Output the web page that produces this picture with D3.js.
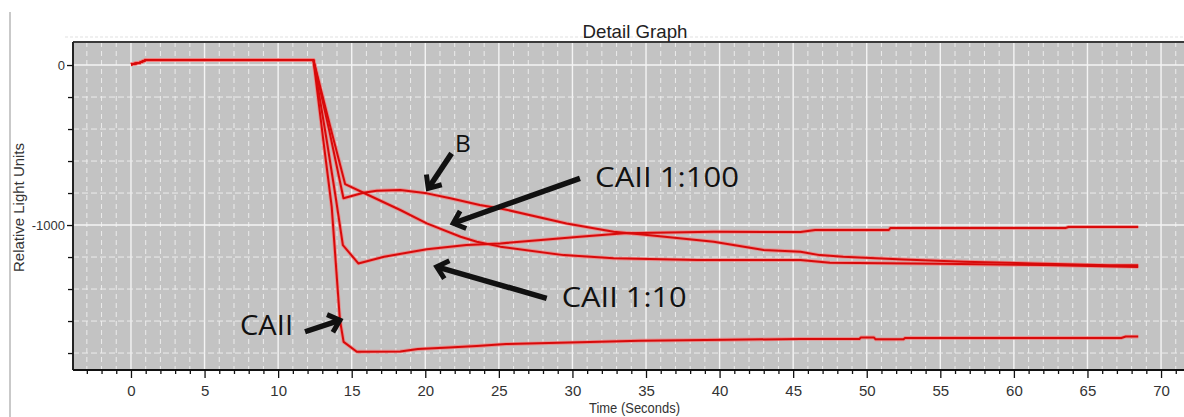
<!DOCTYPE html>
<html><head><meta charset="utf-8">
<script src="https://cdn.jsdelivr.net/npm/d3@7"></script>
<style>html,body{margin:0;padding:0;background:#fff;}svg{display:block;}</style>
</head><body>
<svg id="chart" width="1184" height="417"></svg>
<script>
// ---------- data ----------
const chartTitle = "Detail Graph";
const xAxisTitle = "Time (Seconds)";
const yAxisTitle = "Relative Light Units";
const xTickLabels = [0,5,10,15,20,25,30,35,40,45,50,55,60,65,70];
const yTickLabels = [0,-1000];
const seriesNames = ["CAII","CAII 1:10","CAII 1:100","B"];

const caiiTime  = [0,0.6,1.0,12.4,13.07,13.64,14.2,14.45,15.35,18.3,19.5,21.6,23.5,25.5,30.5,34.6,40.5,45.5,49.5,49.6,50.5,50.6,52.5,52.6,67.3,67.6,68.45];
const caiiValue = [4,15,31,31,-470,-885,-1594,-1730,-1792,-1790,-1775,-1765,-1756,-1744,-1733,-1723,-1717,-1712,-1712,-1703,-1703,-1714,-1714,-1706,-1706,-1697,-1697];

const caii10Time  = [0,0.6,1.0,12.4,13.3,13.9,14.4,15.45,17.2,20.1,22.8,25.1,30.5,33.5,39.6,45.5,46.5,51.5,51.6,63.5,63.7,68.45];
const caii10Value = [4,15,31,31,-470,-820,-1125,-1240,-1198,-1152,-1125,-1115,-1073,-1052,-1042,-1044,-1031,-1031,-1019,-1019,-1012,-1012];

const caii100Time  = [0,0.6,1.0,12.4,13.5,14.55,15.8,18.3,20.1,22.4,23.5,25.1,29.4,32.8,38.5,45.5,47.5,55,62,68.45];
const caii100Value = [4,15,31,31,-370,-744,-798,-906,-990,-1073,-1104,-1135,-1188,-1208,-1219,-1219,-1235,-1242,-1250,-1262];

const bTime  = [0,0.6,1.0,12.4,13.5,14.44,15.8,16.7,18.3,20.1,21.7,23.7,25.1,29.6,32.8,35.1,39.6,43.0,45.5,46.8,48.4,52.5,56.6,61.3,66.5,68.45];
const bValue = [4,15,31,31,-420,-833,-798,-785,-781,-802,-833,-875,-896,-990,-1042,-1063,-1104,-1156,-1167,-1188,-1198,-1215,-1229,-1240,-1252,-1252];

// annotations (in data coordinates)
const annoLabels = ["B","CAII 1:100","CAII 1:10","CAII"];
const annoTextT  = [22.02,31.54,29.27,7.41];
const annoTextV  = [-544,-762,-1514,-1688];
const annoFromT  = [21.79,30.51,28.25,11.83];
const annoFromV  = [-552,-708,-1458,-1667];
const annoToT    = [20.2,21.9,20.78,14.2];
const annoToV    = [-771,-989,-1261,-1594];

// ---------- layout ----------
const W = 1184, H = 417;
const plot = {left:73, right:1184, top:42, bottom:370};
const svg = d3.select("#chart");

const x = d3.scaleLinear().domain([-3.94, 71.56]).range([plot.left, plot.right]);
const y = d3.scaleLinear().domain([-1906, 144]).range([plot.bottom, plot.top]);

// screenshot border line
svg.append("line").attr("x1",10).attr("x2",10).attr("y1",12).attr("y2",H)
  .attr("stroke","#c9c9c9").attr("stroke-width",2);

// faint dotted strip above plot
svg.append("line").attr("x1",65).attr("x2",W).attr("y1",37).attr("y2",37)
  .attr("stroke","#f0f0f0").attr("stroke-width",2).attr("stroke-dasharray","3,2");

// plot background
svg.append("rect").attr("x",plot.left).attr("y",plot.top)
  .attr("width",plot.right-plot.left).attr("height",plot.bottom-plot.top)
  .attr("fill","#c3c3c3");

const grid = svg.append("g");
const xMinor = d3.range(-3, 72, 1);
const yMinor = d3.range(-1800, 1, 200);
grid.selectAll(".vx").data(xMinor).join("line")
  .attr("x1",d=>x(d)).attr("x2",d=>x(d)).attr("y1",plot.top).attr("y2",plot.bottom)
  .attr("stroke", d=> d%5===0 ? "#f4f4f4" : "#ececec")
  .attr("stroke-width", d=> d%5===0 ? 1.4 : 1)
  .attr("stroke-dasharray", d=> d%5===0 ? null : "5,4");
grid.selectAll(".hy").data(yMinor).join("line")
  .attr("x1",plot.left).attr("x2",plot.right).attr("y1",d=>y(d)).attr("y2",d=>y(d))
  .attr("stroke", d=> d%1000===0 ? "#f4f4f4" : "#ececec")
  .attr("stroke-width", d=> d%1000===0 ? 1.4 : 1)
  .attr("stroke-dasharray", d=> d%1000===0 ? null : "6,3");

// series
svg.append("clipPath").attr("id","clip").append("rect")
  .attr("x",plot.left).attr("y",plot.top).attr("width",plot.right-plot.left).attr("height",plot.bottom-plot.top);
const zip = (t,v)=>t.map((d,i)=>[d,v[i]]);
const series = [zip(caiiTime,caiiValue), zip(caii10Time,caii10Value), zip(caii100Time,caii100Value), zip(bTime,bValue)];
const line = d3.line().x(d=>x(d[0])).y(d=>y(d[1]));
const sg = svg.append("g").attr("clip-path","url(#clip)");
sg.selectAll(".halo").data(series).join("path")
  .attr("d",line).attr("fill","none").attr("stroke","#f08080").attr("stroke-width",3.8)
  .attr("stroke-opacity",0.75).attr("stroke-linejoin","round");
sg.selectAll(".core").data(series).join("path")
  .attr("d",line).attr("fill","none").attr("stroke","#d80a0a").attr("stroke-width",2)
  .attr("stroke-linejoin","round");

// frame lines
svg.append("line").attr("x1",plot.left).attr("x2",plot.right).attr("y1",plot.top).attr("y2",plot.top)
  .attr("stroke","#3a3a3a").attr("stroke-width",2);
svg.append("line").attr("x1",plot.left).attr("x2",plot.left).attr("y1",plot.top).attr("y2",plot.bottom)
  .attr("stroke","#222").attr("stroke-width",2);
svg.append("line").attr("x1",plot.left).attr("x2",plot.right).attr("y1",plot.bottom).attr("y2",plot.bottom)
  .attr("stroke","#111").attr("stroke-width",2);

// axes
const fmt = d => String(d);
const xMinorAxis = d3.axisBottom(x).tickValues(xMinor.filter(d=>d%5!==0)).tickSize(4).tickFormat("");
const xMajorAxis = d3.axisBottom(x).tickValues(xTickLabels).tickSize(8).tickFormat(fmt);
const gxm = svg.append("g").attr("transform",`translate(0,${plot.bottom})`).call(xMinorAxis);
const gxM = svg.append("g").attr("transform",`translate(0,${plot.bottom})`).call(xMajorAxis);
[gxm,gxM].forEach(g=>{g.select(".domain").remove(); g.selectAll("line").attr("stroke","#111").attr("stroke-width",1.3);});
gxM.selectAll("text").attr("y",26).attr("dy",null)
  .attr("font-family","'Liberation Sans', Arial, sans-serif").attr("font-size",15).attr("fill","#333");

const yMinorAxis = d3.axisLeft(y).tickValues(yMinor.filter(d=>d%1000!==0)).tickSize(5).tickFormat("");
const yMajorAxis = d3.axisLeft(y).tickValues(yTickLabels).tickSize(6).tickFormat(fmt);
const gym = svg.append("g").attr("transform",`translate(${plot.left},0)`).call(yMinorAxis);
const gyM = svg.append("g").attr("transform",`translate(${plot.left},0)`).call(yMajorAxis);
[gym,gyM].forEach(g=>{g.select(".domain").remove(); g.selectAll("line").attr("stroke","#111").attr("stroke-width",1.3);});
gyM.selectAll("text").attr("x",-8).attr("dy","0.35em")
  .attr("font-family","'Liberation Sans', Arial, sans-serif").attr("font-size",13).attr("fill","#333");

// titles
svg.append("text").attr("x",635).attr("y",37.5).attr("text-anchor","middle")
  .attr("font-family","'Liberation Sans', Arial, sans-serif").attr("font-size",19).attr("fill","#222")
  .attr("textLength",105).attr("lengthAdjust","spacingAndGlyphs").text(chartTitle);
svg.append("text").attr("x",634.5).attr("y",413).attr("text-anchor","middle")
  .attr("font-family","'Liberation Sans', Arial, sans-serif").attr("font-size",14).attr("fill","#333")
  .attr("textLength",91).attr("lengthAdjust","spacingAndGlyphs").text(xAxisTitle);
svg.append("text").attr("transform","translate(24,207.5) rotate(-90)").attr("text-anchor","middle")
  .attr("font-family","'Liberation Sans', Arial, sans-serif").attr("font-size",14).attr("fill","#333")
  .attr("textLength",129).attr("lengthAdjust","spacingAndGlyphs").text(yAxisTitle);

// annotations
const annoSize = [24,28,28,27];
const annoLen  = [15.7,144,125,53];
const ag = svg.append("g");
annoLabels.forEach((lab,i)=>{
  ag.append("text").attr("x",x(annoTextT[i])).attr("y",y(annoTextV[i]))
    .attr("font-family","'Open Sans', 'Noto Sans', sans-serif").attr("font-size",annoSize[i])
    .attr("fill","#111").attr("textLength",annoLen[i]).attr("lengthAdjust","spacingAndGlyphs").text(lab);
  const x1 = x(annoFromT[i]), y1 = y(annoFromV[i]), x2 = x(annoToT[i]), y2 = y(annoToV[i]);
  const a = Math.atan2(y2-y1, x2-x1), L = 14, th = 0.72;
  const h1 = [x2 - L*Math.cos(a-th), y2 - L*Math.sin(a-th)];
  const h2 = [x2 - L*Math.cos(a+th), y2 - L*Math.sin(a+th)];
  const ux = Math.cos(a), uy = Math.sin(a);
  ag.append("path").attr("d",`M${x1},${y1}L${x2-ux*3},${y2-uy*3}`)
    .attr("stroke","#111").attr("stroke-width",5.5).attr("fill","none");
  ag.append("path").attr("d",`M${h1[0]},${h1[1]}L${x2},${y2}L${h2[0]},${h2[1]}`)
    .attr("stroke","#111").attr("stroke-width",5).attr("fill","none").attr("stroke-linejoin","miter");
});
</script>
</body></html>
